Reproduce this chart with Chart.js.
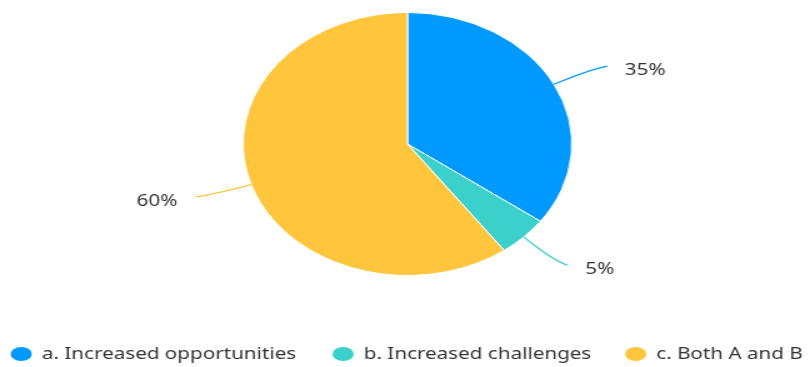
<!DOCTYPE html>
<html>
<head>
<meta charset="utf-8">
<script src="https://cdn.jsdelivr.net/npm/chart.js@4"></script>
<style>
  html, body { margin: 0; padding: 0; background: #fff; overflow: hidden; }
  #wrap { width: 647px; height: 367px; transform: scaleX(1.25); transform-origin: 0 0; }
</style>
</head>
<body>
<div id="wrap"><canvas id="chart1" width="647" height="367"></canvas></div>
<script>
const labels = ['a. Increased opportunities', 'b. Increased challenges', 'c. Both A and B'];
const values = [35, 5, 60];
const colors = ['#0099FF', '#3BD0C9', '#FFC53D'];

const FONT = '"Noto Sans", "Open Sans", sans-serif';

// percent labels with curved leader lines
const sliceLabels = {
    id: 'sliceLabels',
    afterDatasetsDraw(chart) {
        const c = chart.ctx;
        const arcs = chart.getDatasetMeta(0).data;
        const total = values.reduce((a, b) => a + b, 0);
        arcs.forEach((arc, i) => {
            const p = arc.getProps(['x', 'y', 'startAngle', 'endAngle', 'outerRadius'], true);
            const mid = (p.startAngle + p.endAngle) / 2;
            const cos = Math.cos(mid), sin = Math.sin(mid);
            const r = p.outerRadius;
            const side = cos >= 0 ? 1 : -1;
            const sx = p.x + cos * r, sy = p.y + sin * r;
            const cx = p.x + cos * (r + 34), cy = p.y + sin * (r + 34);
            const ex = p.x + cos * (r + 40) + side * 7, ey = p.y + sin * (r + 40);
            c.save();
            c.strokeStyle = colors[i];
            c.lineWidth = 1.2;
            c.beginPath();
            c.moveTo(sx, sy);
            c.quadraticCurveTo(cx, cy, ex, ey);
            c.stroke();
            c.fillStyle = '#333';
            c.font = '16.5px ' + FONT;
            c.textAlign = side > 0 ? 'left' : 'right';
            c.textBaseline = 'middle';
            c.fillText(Math.round(values[i] / total * 100) + '%', ex + side * 14, ey + 4);
            c.restore();
        });
    }
};

// bottom legend
const legendX = [17, 274.5, 508.5];
const bottomLegend = {
    id: 'bottomLegend',
    afterDraw(chart) {
        const c = chart.ctx;
        c.save();
        c.font = '16.5px ' + FONT;
        c.textBaseline = 'middle';
        const y = 354;
        labels.forEach((lab, i) => {
            const x = legendX[i];
            c.fillStyle = colors[i];
            c.beginPath();
            c.ellipse(x, y, 8.5, 7, 0, 0, Math.PI * 2);
            c.fill();
            c.fillStyle = '#333';
            c.fillText(lab, x + 16.5, y);
        });
        c.restore();
    }
};

const ctx = document.getElementById('chart1').getContext('2d');
const chart1 = new Chart(ctx, {
    type: 'pie',
    data: {
        labels: labels,
        datasets: [{
            data: values,
            backgroundColor: colors,
            borderColor: '#fff',
            borderWidth: 1,
            hoverOffset: 0
        }]
    },
    options: {
        responsive: false,
        animation: false,
        layout: {
            padding: { top: 12, bottom: 91, left: 194, right: 189 }
        },
        plugins: {
            legend: { display: false },
            tooltip: { enabled: false }
        }
    },
    plugins: [sliceLabels, bottomLegend]
});
</script>
</body>
</html>
